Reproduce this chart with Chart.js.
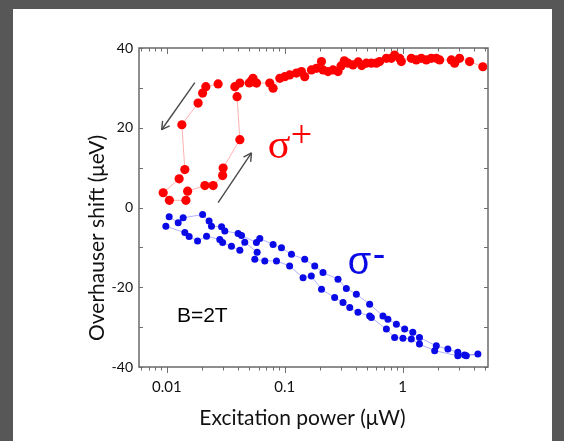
<!DOCTYPE html>
<html><head><meta charset="utf-8">
<script src="https://cdn.jsdelivr.net/npm/chart.js@4.4.1/dist/chart.umd.min.js"></script>
<style>
html,body{margin:0;padding:0;background:#575757;width:564px;height:441px;overflow:hidden}
#panel{position:absolute;left:13px;top:9px;width:539px;height:432px;background:#fff}
#c{position:absolute;left:0;top:0}
</style></head><body>
<div id="panel"></div>
<canvas id="c" width="564" height="441"></canvas>
<script>
// sigma+ (red) : sweep order
const redPower = [0.0272,0.0214,0.0201,0.0184,0.0134,0.0142,0.0127,0.0093,
  0.0105,0.0145,0.0150,0.021,0.0247,0.0297,0.030,0.0416,0.0394,0.0377,0.0416,0.050,0.052,
  0.0538,0.0576,0.0746,0.0796,0.0908,0.100,0.110,0.1256,0.1385,0.1477,0.1683,0.1857,0.2047,0.2112,0.2328,0.2566,0.283,0.30,0.32,0.344,0.379,0.42,0.45,0.492,0.543,0.598,0.638,0.728,0.802,0.855,0.943,0.975,1.185,1.306,1.44,1.588,1.75,1.93,2.06,2.59,2.76,3.04,3.70,4.79];
const redShift = [31.0,30.3,28.7,26.2,20.75,9.5,7.2,3.7,
  1.8,1.8,4.1,5.5,5.5,8.0,9.9,17.0,27.8,30.3,31.2,31.25,31.75,
  32.4,31.2,31.2,29.9,32.4,32.8,33.25,33.7,34.1,32.8,34.5,34.9,36.6,34.5,34.1,34.5,34.1,35.5,36.8,36.2,35.75,36.5,35.6,36.2,36.2,36.2,36.6,37.4,37.4,38.25,37.4,36.6,37.4,37.0,37.4,37.0,37.4,37.4,37.0,37.0,36.2,37.4,36.6,35.3];
// sigma- (blue) : upper track then lower track back
const bluePower = [0.01046,0.01247,0.01374,0.0201,0.0228,0.0239,0.0291,0.0310,0.0402,0.0430,0.0575,0.0614,0.0796,0.0938,0.114,0.1477,0.1796,0.211,0.283,0.333,0.405,0.525,0.681,0.750,0.885,1.04,1.22,1.39,1.93,2.42,2.94,3.35,4.35,
  3.47,2.94,1.87,1.39,1.185,1.006,0.855,0.728,0.543,0.525,0.418,0.356,0.312,0.265,0.205,0.168,0.143,0.110,0.0851,0.0677,0.0557,0.0583,0.0458,0.0416,0.0353,0.0297,0.0281,0.0217,0.0182,0.01545,0.0142,0.0098];
const blueShift = [-2.3,-3.8,-2.6,-1.75,-3.4,-4.7,-4.8,-5.9,-6.5,-7.0,-8.8,-7.8,-9.25,-10.1,-11.75,-13.0,-14.7,-16.3,-18.0,-20.3,-21.75,-24.25,-27.2,-28.0,-29.25,-30.5,-31.3,-32.6,-34.7,-35.5,-36.3,-37.0,-36.75,
  -37.2,-37.2,-35.9,-34.25,-33.0,-32.8,-32.6,-30.5,-27.6,-27.2,-26.3,-25.1,-23.8,-22.6,-20.5,-17.2,-17.6,-14.7,-13.4,-13.4,-13.0,-11.2,-8.7,-10.7,-9.7,-8.8,-8.0,-7.2,-8.4,-7.3,-6.3,-4.7];
const xTickValues = [0.006,0.007,0.008,0.009,0.01,0.02,0.03,0.04,0.05,0.06,0.07,0.08,0.09,0.1,0.2,0.3,0.4,0.5,0.6,0.7,0.8,0.9,1,2,3,4,5];
const xTickLabels = ['0.01','0.1','1'];
const yTickValues = [-40,-30,-20,-10,0,10,20,30,40];
const yTickLabels = ['-40','-20','0','20','40'];
const arrowsData = [{from:[0.01726,31.3],to:[0.00902,19.5]},{from:[0.0272,1.2],to:[0.0522,13.7]}];

const toPts = (xs,ys)=>xs.map((v,i)=>({x:v,y:ys[i]}));
const isDecade = v => Math.abs(Math.log10(v)-Math.round(Math.log10(v)))<1e-6;

const deco = {
  id:'deco',
  afterDatasetsDraw(chart){
    const {ctx, chartArea:a, scales:{x,y}} = chart;
    const ln=(x1,y1,x2,y2)=>{ctx.beginPath();ctx.moveTo(x1,y1);ctx.lineTo(x2,y2);ctx.stroke();};
    ctx.save();
    ctx.strokeStyle='#707070'; ctx.lineWidth=1;
    x.ticks.forEach(t=>{const px=Math.round(x.getPixelForValue(t.value))+0.5; const L=isDecade(t.value)?6:3.5;
      ln(px,a.top,px,a.top+L); ln(px,a.bottom,px,a.bottom+L);});
    y.ticks.forEach(t=>{const py=Math.round(y.getPixelForValue(t.value))+0.5;
      ln(a.left,py,a.left+4,py); ln(a.right,py,a.right-4,py);});
    ctx.lineWidth=1.5; ctx.strokeStyle='#6a6a6a';
    ctx.strokeRect(a.left,a.top,a.right-a.left,a.bottom-a.top);
    // arrows
    ctx.strokeStyle='#4a4a4a'; ctx.lineWidth=1.4;
    arrowsData.forEach(ar=>{
      const x1=x.getPixelForValue(ar.from[0]), y1=y.getPixelForValue(ar.from[1]);
      const x2=x.getPixelForValue(ar.to[0]), y2=y.getPixelForValue(ar.to[1]);
      ln(x1,y1,x2,y2);
      const ang=Math.atan2(y2-y1,x2-x1), h=9;
      ln(x2,y2,x2-h*Math.cos(ang-0.5),y2-h*Math.sin(ang-0.5));
      ln(x2,y2,x2-h*Math.cos(ang+0.5),y2-h*Math.sin(ang+0.5));
    });
    // annotations
    ctx.textAlign='left'; ctx.textBaseline='alphabetic';
    let px=x.getPixelForValue(0.0718), py=y.getPixelForValue(12.5);
    ctx.fillStyle='#ff0000';
    ctx.font='42px "Liberation Serif"'; ctx.fillText('σ',px,py);
    ctx.font='38px "Liberation Serif"'; ctx.fillText('+',px+23,py-11);
    px=x.getPixelForValue(0.342); py=y.getPixelForValue(-16.75);
    ctx.fillStyle='#0a0ae6';
    ctx.font='38px "Liberation Sans"'; ctx.fillText('σ',px,py);
    ctx.fillText('-',px+25,py-7);
    px=x.getPixelForValue(0.01216); py=y.getPixelForValue(-28.75);
    ctx.fillStyle='#000'; ctx.font='21px "Liberation Sans"'; ctx.fillText('B=2T',px,py);
    // axis titles
    ctx.fillStyle='#111'; ctx.font='21px Lato';
    ctx.textAlign='center'; ctx.textBaseline='alphabetic';
    ctx.fillText('Excitation power (μW)',302.5,425);
    ctx.translate(104,238); ctx.rotate(-Math.PI/2);
    ctx.fillText('Overhauser shift (μeV)',0,0);
    ctx.restore();
  }
};

new Chart(document.getElementById('c'),{
  type:'scatter',
  data:{datasets:[
    {label:'σ+',data:toPts(redPower,redShift),showLine:true,borderColor:'rgba(255,60,60,0.4)',borderWidth:1,
     pointRadius:4.6,pointBackgroundColor:'#ff0000',pointBorderWidth:0,tension:0},
    {label:'σ-',data:toPts(bluePower,blueShift),showLine:true,borderColor:'rgba(60,60,255,0.4)',borderWidth:1,
     pointRadius:3.5,pointBackgroundColor:'#0a0ae6',pointBorderWidth:0,tension:0}
  ]},
  options:{
    responsive:false, animation:false,
    layout:{padding:{left:0,top:48,right:76,bottom:0}},
    plugins:{legend:{display:false},tooltip:{enabled:false}},
    scales:{
      x:{type:'logarithmic',min:0.0058,max:5.3,
        afterBuildTicks:s=>{s.ticks=xTickValues.map(v=>({value:v}));},
        afterFit:s=>{s.height=74;},
        grid:{display:false,drawTicks:false},border:{display:false},
        ticks:{autoSkip:false,maxRotation:0,padding:11,color:'#111',font:{family:'Lato',size:15},
          callback:(v)=>{ if(!isDecade(v)) return ''; const s=xTickLabels.find(l=>Math.abs(parseFloat(l)-v)<1e-9); return s||''; }}},
      y:{type:'linear',min:-40,max:40,
        afterBuildTicks:s=>{s.ticks=yTickValues.map(v=>({value:v}));},
        afterFit:s=>{s.width=139;},
        grid:{display:false,drawTicks:false},border:{display:false},
        ticks:{padding:6,color:'#111',font:{family:'Lato',size:14},
          callback:(v)=>yTickLabels.includes(String(v))?String(v):''}}
    }
  },
  plugins:[deco]
});
</script>
</body></html>
